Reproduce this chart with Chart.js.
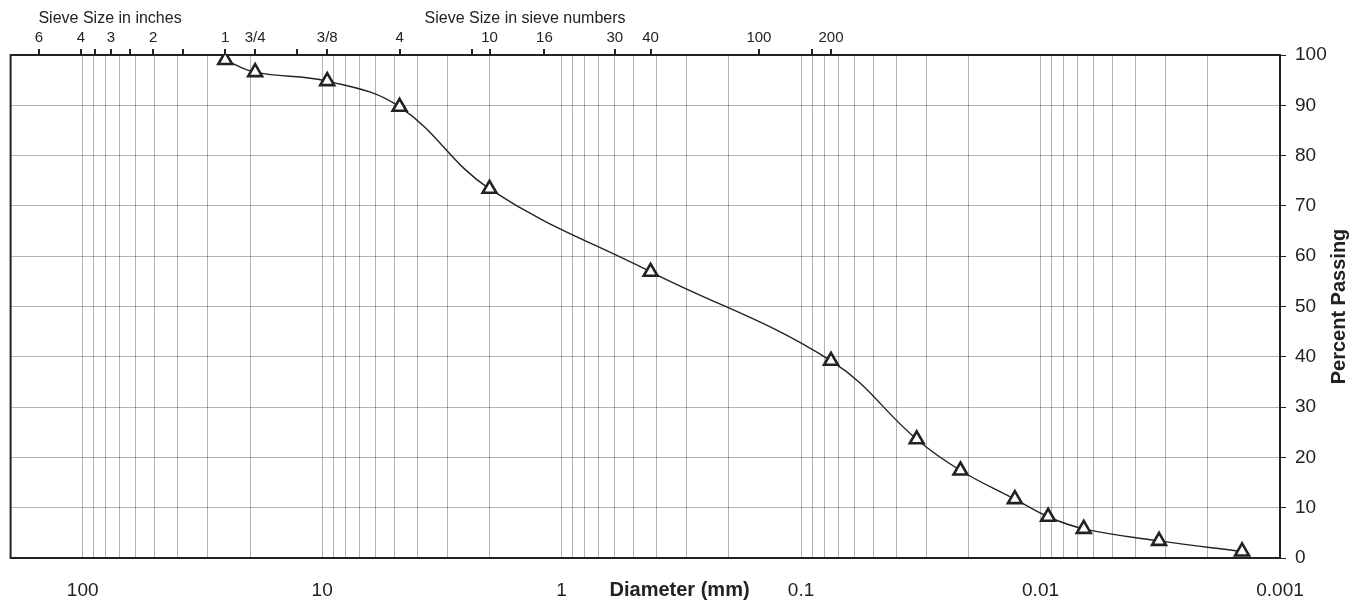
<!DOCTYPE html>
<html>
<head>
<meta charset="utf-8">
<script src="https://cdn.jsdelivr.net/npm/chart.js@4"></script>
<style>
  body { margin: 0; background: #fff; }
  #caixa { width: 1356px; height: 600px; position: relative; }
</style>
</head>
<body>
<div id="caixa"><canvas id="granulometria"></canvas></div>
<script>
// ==================== DADOS ====================
const diametros = [25.4, 19.05, 9.525, 4.75, 2.0, 0.425, 0.075, 0.0329, 0.0216, 0.0128, 0.0093, 0.0066, 0.0032, 0.00144];
const passando = [99, 96.6, 94.8, 89.7, 73.4, 56.9, 39.2, 23.6, 17.4, 11.7, 8.2, 5.8, 3.4, 1.3];

const peneirasMm = [152.4, 101.6, 88.9, 76.2, 63.5, 50.8, 38.1, 25.4, 19.05, 12.7, 9.525, 4.75, 2.36, 2.0, 1.18, 0.6, 0.425, 0.15, 0.09, 0.075];
const peneirasRotulos = ['6', '4', '', '3', '', '2', '', '1', '3/4', '', '3/8', '4', '', '10', '16', '30', '40', '100', '', '200'];

const ticksPercent = [0, 10, 20, 30, 40, 50, 60, 70, 80, 90, 100];
const rotulosDiametro = ['100', '10', '1', '0.1', '0.01', '0.001'];

const corTexto = '#222';
const corGrade = 'rgba(0,0,0,0.3)';

function ticksLog(min, max) {
  const lista = [];
  for (let e = -3; e <= 2; e++) {
    for (let m = 1; m <= 9; m++) {
      const v = m * Math.pow(10, e);
      if (v >= min * 0.999 && v <= max * 1.001) lista.push(v);
    }
  }
  lista.push(max);
  return lista;
}

function rotuloDecada(v) {
  const s = String(+v.toPrecision(3));
  return rotulosDiametro.includes(s) ? s : '';
}

// textos extras e moldura
const extras = {
  id: 'extras',
  beforeDatasetsDraw(chart) {
    const { ctx, chartArea } = chart;
    ctx.save();
    ctx.strokeStyle = '#222';
    ctx.lineWidth = 2;
    ctx.strokeRect(chartArea.left, chartArea.top, chartArea.right - chartArea.left, chartArea.bottom - chartArea.top);
    ctx.restore();
  },
  afterDraw(chart) {
    const { ctx, chartArea } = chart;
    const topo = chart.scales.xTop;
    ctx.save();
    ctx.fillStyle = corTexto;
    ctx.textBaseline = 'middle';
    ctx.textAlign = 'center';
    ctx.font = '16px "Liberation Sans", Arial, sans-serif';
    ctx.fillText('Sieve Size in inches', (topo.getPixelForValue(152.4) + topo.getPixelForValue(25.4)) / 2 - 22, 19);
    ctx.fillText('Sieve Size in sieve numbers', (topo.getPixelForValue(4.75) + topo.getPixelForValue(0.425)) / 2, 19);

    ctx.font = 'bold 20px "Liberation Sans", Arial, sans-serif';
    const larg = chartArea.right - chartArea.left;
    ctx.fillText('Diameter (mm)', chartArea.left + larg * 0.527, 590);

    ctx.translate(1339, (chartArea.top + chartArea.bottom) / 2);
    ctx.rotate(-Math.PI / 2);
    ctx.fillText('Percent Passing', 0, 0);
    ctx.restore();
  }
};

const pontos = diametros.map((d, i) => ({ x: d, y: passando[i] }));

new Chart(document.getElementById('granulometria'), {
  type: 'line',
  data: {
    datasets: [{
      data: pontos,
      borderColor: '#222',
      borderWidth: 1.4,
      tension: 0.4,
      pointStyle: 'triangle',
      pointRadius: 8,
      pointBorderWidth: 2.6,
      pointBackgroundColor: '#fff',
      pointBorderColor: '#222'
    }]
  },
  options: {
    responsive: true,
    maintainAspectRatio: false,
    animation: false,
    layout: { padding: { left: 9, right: 0, top: 0, bottom: 0 } },
    plugins: {
      legend: { display: false },
      tooltip: { enabled: false }
    },
    scales: {
      x: {
        type: 'logarithmic',
        position: 'bottom',
        reverse: true,
        min: 0.001,
        max: 200,
        afterBuildTicks: (s) => { s.ticks = ticksLog(0.001, 200).map(v => ({ value: v })); },
        afterFit: (s) => { s.height = 42; },
        ticks: {
          autoSkip: false,
          maxRotation: 0,
          padding: 21,
          color: corTexto,
          font: { size: 19, family: '"Liberation Sans", Arial, sans-serif' },
          callback: (v) => rotuloDecada(v)
        },
        grid: { color: corGrade, drawTicks: false },
        border: { display: true, color: '#222', width: 2 }
      },
      xTop: {
        type: 'logarithmic',
        position: 'top',
        display: true,
        reverse: true,
        min: 0.001,
        max: 200,
        afterBuildTicks: (s) => { s.ticks = peneirasMm.map(v => ({ value: v })); },
        afterFit: (s) => { s.height = 55; },
        ticks: {
          autoSkip: false,
          maxRotation: 0,
          padding: 2,
          color: corTexto,
          font: { size: 15, family: '"Liberation Sans", Arial, sans-serif' },
          callback: (v, i) => peneirasRotulos[i]
        },
        grid: { drawOnChartArea: false, tickLength: 6, tickColor: '#222', lineWidth: 2 },
        border: { display: true, color: '#222', width: 2 }
      },
      y: {
        position: 'right',
        min: 0,
        max: 100,
        afterBuildTicks: (s) => {
          const lista = [];
          ticksPercent.forEach(t => { lista.push({ value: t }); if (t < 100) lista.push({ value: t + 5 }); });
          s.ticks = lista;
        },
        afterFit: (s) => { s.width = 76; },
        ticks: {
          padding: 9,
          color: corTexto,
          font: { size: 19, family: '"Liberation Sans", Arial, sans-serif' },
          callback: (v) => (ticksPercent.includes(v) ? String(v) : '')
        },
        grid: { color: corGrade, tickLength: 6, tickColor: '#222' },
        border: { display: true, color: '#222', width: 2 }
      }
    }
  },
  plugins: [extras]
});
</script>
</body>
</html>
